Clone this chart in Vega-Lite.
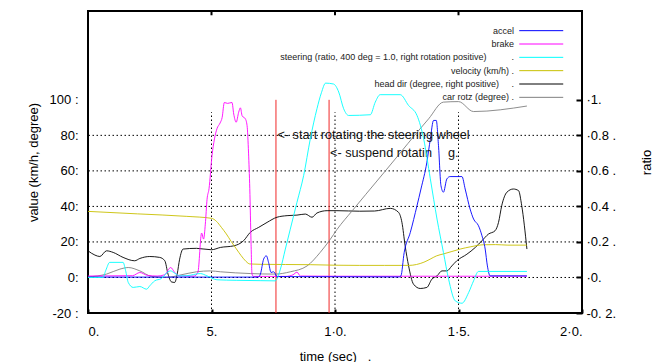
{
  "$schema": "https://vega.github.io/schema/vega-lite/v6.json",
  "width": 494,
  "height": 302,
  "autosize": {"type": "none"},
  "padding": {"left": 88, "top": 11, "right": 80, "bottom": 49},
  "background": "white",
  "config": {
    "view": {"stroke": "#000", "strokeWidth": 2},
    "font": "Liberation Sans",
    "axis": {"domain": false, "grid": false, "labelFont": "Liberation Sans", "labelFontSize": 13, "labelColor": "#000", "titleFont": "Liberation Sans", "titleFontSize": 13, "titleFontWeight": "normal", "titleColor": "#000"}
  },
  "datasets": {
    "lines": [
      {"series": "head dir", "t": 0, "v": 15}, {"series": "head dir", "t": 0.28, "v": 12.6}, {"series": "head dir", "t": 0.48, "v": 11.8}, {"series": "head dir", "t": 0.75, "v": 15}, {"series": "head dir", "t": 1.02, "v": 14.1}, {"series": "head dir", "t": 1.42, "v": 11.3}, {"series": "head dir", "t": 1.89, "v": 9.4}, {"series": "head dir", "t": 2.1, "v": 10.7}, {"series": "head dir", "t": 2.5, "v": 11.8}, {"series": "head dir", "t": 2.9, "v": 11.3}, {"series": "head dir", "t": 3.11, "v": 9.4}, {"series": "head dir", "t": 3.24, "v": 1.9}, {"series": "head dir", "t": 3.38, "v": -2.5}, {"series": "head dir", "t": 3.51, "v": -2.8}, {"series": "head dir", "t": 3.61, "v": 1.9}, {"series": "head dir", "t": 3.71, "v": 10.3}, {"series": "head dir", "t": 3.85, "v": 16}, {"series": "head dir", "t": 4.39, "v": 16.4}, {"series": "head dir", "t": 5.0, "v": 15.6}, {"series": "head dir", "t": 5.36, "v": 16.9}, {"series": "head dir", "t": 5.9, "v": 17.8}, {"series": "head dir", "t": 6.3, "v": 20.7}, {"series": "head dir", "t": 6.57, "v": 25.4}, {"series": "head dir", "t": 6.91, "v": 28.2}, {"series": "head dir", "t": 7.25, "v": 31}, {"series": "head dir", "t": 7.65, "v": 33.9}, {"series": "head dir", "t": 8.06, "v": 34.8}, {"series": "head dir", "t": 8.46, "v": 35.1}, {"series": "head dir", "t": 8.8, "v": 35.7}, {"series": "head dir", "t": 9.07, "v": 33.9}, {"series": "head dir", "t": 9.27, "v": 36.3}, {"series": "head dir", "t": 9.68, "v": 37.6}, {"series": "head dir", "t": 10.08, "v": 37.6}, {"series": "head dir", "t": 11.0, "v": 37.3}, {"series": "head dir", "t": 11.6, "v": 37.4}, {"series": "head dir", "t": 12.24, "v": 38.9}, {"series": "head dir", "t": 12.57, "v": 36.7}, {"series": "head dir", "t": 12.71, "v": 31}, {"series": "head dir", "t": 12.84, "v": 17.8}, {"series": "head dir", "t": 12.98, "v": 6.5}, {"series": "head dir", "t": 13.18, "v": -3.8}, {"series": "head dir", "t": 13.45, "v": -6.2}, {"series": "head dir", "t": 13.72, "v": -5.6}, {"series": "head dir", "t": 13.92, "v": -1}, {"series": "head dir", "t": 14.13, "v": 0.9}, {"series": "head dir", "t": 14.33, "v": 3.7}, {"series": "head dir", "t": 14.53, "v": 3.7}, {"series": "head dir", "t": 14.73, "v": 6.5}, {"series": "head dir", "t": 14.93, "v": 9.4}, {"series": "head dir", "t": 15.34, "v": 13.1}, {"series": "head dir", "t": 15.68, "v": 16.9}, {"series": "head dir", "t": 15.95, "v": 20.7}, {"series": "head dir", "t": 16.21, "v": 24.4}, {"series": "head dir", "t": 16.48, "v": 26.3}, {"series": "head dir", "t": 16.62, "v": 31}, {"series": "head dir", "t": 16.75, "v": 40.4}, {"series": "head dir", "t": 16.96, "v": 48}, {"series": "head dir", "t": 17.22, "v": 49.8}, {"series": "head dir", "t": 17.43, "v": 48.9}, {"series": "head dir", "t": 17.56, "v": 40.4}, {"series": "head dir", "t": 17.77, "v": 16},
      {"series": "car rotz", "t": 0, "v": 0.3}, {"series": "car rotz", "t": 0.75, "v": 1.9}, {"series": "car rotz", "t": 1.29, "v": 4.7}, {"series": "car rotz", "t": 1.63, "v": 5.6}, {"series": "car rotz", "t": 2.1, "v": 3.7}, {"series": "car rotz", "t": 2.57, "v": 0.6}, {"series": "car rotz", "t": 3.18, "v": 0}, {"series": "car rotz", "t": 3.71, "v": 1.3}, {"series": "car rotz", "t": 4.39, "v": 3.2}, {"series": "car rotz", "t": 4.96, "v": 3.7}, {"series": "car rotz", "t": 5.36, "v": 3.2}, {"series": "car rotz", "t": 6.57, "v": 2.2}, {"series": "car rotz", "t": 7.58, "v": 1.9}, {"series": "car rotz", "t": 8.19, "v": 3.2}, {"series": "car rotz", "t": 8.87, "v": 6.5}, {"series": "car rotz", "t": 9.4, "v": 14.1}, {"series": "car rotz", "t": 9.81, "v": 21.5}, {"series": "car rotz", "t": 10.08, "v": 27}, {"series": "car rotz", "t": 10.7, "v": 37.6}, {"series": "car rotz", "t": 11.8, "v": 56}, {"series": "car rotz", "t": 12.1, "v": 61}, {"series": "car rotz", "t": 13.79, "v": 89.3}, {"series": "car rotz", "t": 14.39, "v": 98.7}, {"series": "car rotz", "t": 15.0, "v": 99}, {"series": "car rotz", "t": 15.61, "v": 93.4}, {"series": "car rotz", "t": 17.77, "v": 96.5},
      {"series": "velocity", "t": 0, "v": 37.2}, {"series": "velocity", "t": 2, "v": 35.8}, {"series": "velocity", "t": 4, "v": 34.4}, {"series": "velocity", "t": 5.0, "v": 33.3}, {"series": "velocity", "t": 5.2, "v": 31.6}, {"series": "velocity", "t": 5.4, "v": 28.2}, {"series": "velocity", "t": 5.6, "v": 24.5}, {"series": "velocity", "t": 5.8, "v": 20.2}, {"series": "velocity", "t": 6.0, "v": 16.2}, {"series": "velocity", "t": 6.2, "v": 12.3}, {"series": "velocity", "t": 6.4, "v": 9.0}, {"series": "velocity", "t": 6.55, "v": 7.6}, {"series": "velocity", "t": 7, "v": 7.4}, {"series": "velocity", "t": 8, "v": 7.3}, {"series": "velocity", "t": 9, "v": 7.2}, {"series": "velocity", "t": 10, "v": 6.9}, {"series": "velocity", "t": 11, "v": 6.8}, {"series": "velocity", "t": 12, "v": 6.8}, {"series": "velocity", "t": 13, "v": 6.8}, {"series": "velocity", "t": 13.3, "v": 7.3}, {"series": "velocity", "t": 13.6, "v": 8.6}, {"series": "velocity", "t": 13.85, "v": 10.3}, {"series": "velocity", "t": 14.1, "v": 12.1}, {"series": "velocity", "t": 14.4, "v": 13.3}, {"series": "velocity", "t": 14.7, "v": 14.5}, {"series": "velocity", "t": 15.07, "v": 16}, {"series": "velocity", "t": 15.5, "v": 17.3}, {"series": "velocity", "t": 16, "v": 18.4}, {"series": "velocity", "t": 16.5, "v": 18.5}, {"series": "velocity", "t": 17, "v": 18.2}, {"series": "velocity", "t": 17.77, "v": 18.2},
      {"series": "brake", "t": 0, "v": 0.8}, {"series": "brake", "t": 1.8, "v": 1.0}, {"series": "brake", "t": 2.1, "v": 2.8}, {"series": "brake", "t": 2.4, "v": 1.2}, {"series": "brake", "t": 2.8, "v": 0.8}, {"series": "brake", "t": 3.1, "v": 1.5}, {"series": "brake", "t": 3.35, "v": 5.6}, {"series": "brake", "t": 3.5, "v": 3.0}, {"series": "brake", "t": 3.7, "v": 0.8}, {"series": "brake", "t": 4.3, "v": 0.8}, {"series": "brake", "t": 4.45, "v": 3}, {"series": "brake", "t": 4.6, "v": 25}, {"series": "brake", "t": 4.68, "v": 21.6}, {"series": "brake", "t": 4.75, "v": 30}, {"series": "brake", "t": 4.82, "v": 44}, {"series": "brake", "t": 4.9, "v": 50}, {"series": "brake", "t": 5.02, "v": 68.6}, {"series": "brake", "t": 5.12, "v": 78}, {"series": "brake", "t": 5.22, "v": 83.7}, {"series": "brake", "t": 5.35, "v": 87}, {"series": "brake", "t": 5.43, "v": 90}, {"series": "brake", "t": 5.52, "v": 98.5}, {"series": "brake", "t": 5.65, "v": 98}, {"series": "brake", "t": 5.83, "v": 98.5}, {"series": "brake", "t": 5.9, "v": 92}, {"series": "brake", "t": 6.0, "v": 87.4}, {"series": "brake", "t": 6.1, "v": 93}, {"series": "brake", "t": 6.17, "v": 95.5}, {"series": "brake", "t": 6.24, "v": 91}, {"series": "brake", "t": 6.37, "v": 89.3}, {"series": "brake", "t": 6.44, "v": 85.5}, {"series": "brake", "t": 6.5, "v": 70}, {"series": "brake", "t": 6.55, "v": 50}, {"series": "brake", "t": 6.6, "v": 20}, {"series": "brake", "t": 6.64, "v": 1.9}, {"series": "brake", "t": 6.7, "v": 0.6}, {"series": "brake", "t": 8.0, "v": 0.6}, {"series": "brake", "t": 8.3, "v": 1.5}, {"series": "brake", "t": 8.46, "v": 3.0}, {"series": "brake", "t": 8.6, "v": 0.8}, {"series": "brake", "t": 10, "v": 0.7}, {"series": "brake", "t": 17.77, "v": 0.7},
      {"series": "accel", "t": 0, "v": 0.2}, {"series": "accel", "t": 6.9, "v": 0.2}, {"series": "accel", "t": 6.98, "v": 1.9}, {"series": "accel", "t": 7.11, "v": 10.3}, {"series": "accel", "t": 7.22, "v": 12.2}, {"series": "accel", "t": 7.31, "v": 8.5}, {"series": "accel", "t": 7.41, "v": 2.8}, {"series": "accel", "t": 7.5, "v": 3.2}, {"series": "accel", "t": 7.55, "v": 2.8}, {"series": "accel", "t": 7.65, "v": 0.5}, {"series": "accel", "t": 12.6, "v": 0.3}, {"series": "accel", "t": 12.67, "v": 0.9}, {"series": "accel", "t": 12.8, "v": 14}, {"series": "accel", "t": 13.05, "v": 25.4}, {"series": "accel", "t": 13.32, "v": 40.4}, {"series": "accel", "t": 13.48, "v": 49.8}, {"series": "accel", "t": 13.72, "v": 64.9}, {"series": "accel", "t": 13.86, "v": 78}, {"series": "accel", "t": 13.99, "v": 88.4}, {"series": "accel", "t": 14.1, "v": 88.4}, {"series": "accel", "t": 14.19, "v": 74.2}, {"series": "accel", "t": 14.29, "v": 51.7}, {"series": "accel", "t": 14.39, "v": 48}, {"series": "accel", "t": 14.53, "v": 55.5}, {"series": "accel", "t": 14.66, "v": 56.8}, {"series": "accel", "t": 15.14, "v": 56.8}, {"series": "accel", "t": 15.27, "v": 49.8}, {"series": "accel", "t": 15.47, "v": 38.5}, {"series": "accel", "t": 15.61, "v": 32.9}, {"series": "accel", "t": 15.81, "v": 29.1}, {"series": "accel", "t": 15.95, "v": 23.5}, {"series": "accel", "t": 16.08, "v": 16}, {"series": "accel", "t": 16.17, "v": 6.5}, {"series": "accel", "t": 16.28, "v": 0.9}, {"series": "accel", "t": 17.77, "v": 0.9}
    ],
    "steer": [
      {"series": "steering", "t": 0, "ratio": 0}, {"series": "steering", "t": 0.6, "ratio": 0}, {"series": "steering", "t": 0.72, "ratio": 0.04}, {"series": "steering", "t": 0.88, "ratio": 0.085}, {"series": "steering", "t": 1.42, "ratio": 0.085}, {"series": "steering", "t": 1.52, "ratio": 0.04}, {"series": "steering", "t": 1.63, "ratio": -0.028}, {"series": "steering", "t": 1.83, "ratio": -0.056}, {"series": "steering", "t": 2.1, "ratio": -0.051}, {"series": "steering", "t": 2.37, "ratio": -0.066}, {"series": "steering", "t": 2.5, "ratio": -0.047}, {"series": "steering", "t": 2.7, "ratio": -0.019}, {"series": "steering", "t": 2.97, "ratio": -0.006}, {"series": "steering", "t": 3.24, "ratio": 0.032}, {"series": "steering", "t": 3.34, "ratio": 0.037}, {"series": "steering", "t": 3.51, "ratio": 0.024}, {"series": "steering", "t": 3.71, "ratio": 0.009}, {"series": "steering", "t": 4.0, "ratio": 0.01}, {"series": "steering", "t": 4.55, "ratio": 0.022}, {"series": "steering", "t": 4.82, "ratio": 0.009}, {"series": "steering", "t": 5.22, "ratio": -0.013}, {"series": "steering", "t": 6.0, "ratio": -0.016}, {"series": "steering", "t": 7.0, "ratio": -0.018}, {"series": "steering", "t": 7.58, "ratio": -0.019}, {"series": "steering", "t": 7.79, "ratio": 0.047}, {"series": "steering", "t": 7.99, "ratio": 0.16}, {"series": "steering", "t": 8.19, "ratio": 0.272}, {"series": "steering", "t": 8.46, "ratio": 0.423}, {"series": "steering", "t": 8.73, "ratio": 0.573}, {"series": "steering", "t": 9.0, "ratio": 0.78}, {"series": "steering", "t": 9.27, "ratio": 0.95}, {"series": "steering", "t": 9.45, "ratio": 1.04}, {"series": "steering", "t": 9.62, "ratio": 1.094}, {"series": "steering", "t": 9.94, "ratio": 1.089}, {"series": "steering", "t": 10.15, "ratio": 1.044}, {"series": "steering", "t": 10.35, "ratio": 0.95}, {"series": "steering", "t": 10.55, "ratio": 0.912}, {"series": "steering", "t": 11.43, "ratio": 0.916}, {"series": "steering", "t": 11.63, "ratio": 0.987}, {"series": "steering", "t": 11.83, "ratio": 1.029}, {"series": "steering", "t": 12.64, "ratio": 1.029}, {"series": "steering", "t": 12.98, "ratio": 0.968}, {"series": "steering", "t": 13.32, "ratio": 0.912}, {"series": "steering", "t": 13.59, "ratio": 0.78}, {"series": "steering", "t": 13.86, "ratio": 0.555}, {"series": "steering", "t": 14.13, "ratio": 0.329}, {"series": "steering", "t": 14.39, "ratio": 0.141}, {"series": "steering", "t": 14.6, "ratio": -0.01}, {"series": "steering", "t": 14.87, "ratio": -0.132}, {"series": "steering", "t": 15.14, "ratio": -0.145}, {"series": "steering", "t": 15.41, "ratio": -0.085}, {"series": "steering", "t": 15.61, "ratio": -0.019}, {"series": "steering", "t": 15.81, "ratio": 0.034}, {"series": "steering", "t": 17.77, "ratio": 0.034}
    ],
    "legendRows": [
      {"series": "accel", "label": "accel"},
      {"series": "brake", "label": "brake"},
      {"series": "steering", "label": "steering (ratio, 400 deg = 1.0, right rotation positive)\u00a0\u00a0\u00a0\u00a0\u00a0\u00a0\u00a0\u00a0\u00a0\u00a0."},
      {"series": "velocity", "label": "velocity (km/h) ."},
      {"series": "head dir", "label": "head dir (degree, right positive)\u00a0\u00a0\u00a0\u00a0\u00a0."},
      {"series": "car rotz", "label": "car rotz (degree) ."}
    ],
    "hgrid": [{"g": 0}, {"g": 20}, {"g": 40}, {"g": 60}, {"g": 80}],
    "vgrid": [{"t": 5}, {"t": 10}, {"t": 15}],
    "events": [{"t": 7.61}, {"t": 9.76}],
    "notes": [
      {"t": 7.67, "v": 80, "label": "<- start rotating the steering wheel"},
      {"t": 9.8, "v": 70, "label": "<- suspend rotatin"},
      {"t": 14.57, "v": 70, "label": "g."}
    ]
  },
  "layer": [
    {
      "layer": [
        {
          "data": {"name": "hgrid"},
          "mark": {"type": "rule", "color": "#000", "strokeWidth": 1, "strokeDash": [1.5, 2.5]},
          "encoding": {
            "y": {"field": "g", "type": "quantitative", "scale": {"domain": [-20, 150], "nice": false, "zero": false},
              "axis": {"values": [-20, 0, 20, 40, 60, 80, 100], "ticks": false, "labelPadding": 10, "title": "value (km/h, degree)", "titlePadding": 9,
                "labelExpr": "datum.value == 100 ? '100 :' : datum.value == -20 ? '-20 :' : datum.value + ':'"}}
          }
        },
        {
          "data": {"name": "vgrid"},
          "mark": {"type": "rule", "color": "#000", "strokeWidth": 1, "strokeDash": [1.5, 2.5]},
          "encoding": {
            "x": {"field": "t", "type": "quantitative", "scale": {"domain": [0, 20], "nice": false},
              "axis": {"values": [0, 5, 10, 15, 20], "ticks": true, "tickSize": -4, "tickWidth": 2, "tickColor": "#000", "labelPadding": 16, "title": "time (sec)\u00a0\u00a0\u00a0.", "titlePadding": 12,
                "labelExpr": "datum.value == 0 ? '0.' : datum.value == 5 ? '5.' : datum.value == 10 ? '1·0.' : datum.value == 15 ? '1·5.' : '2·0.'"}},
            "y": {"datum": -20, "type": "quantitative", "scale": {"domain": [-20, 150], "nice": false, "zero": false}},
            "y2": {"datum": 93}
          }
        },
        {
          "data": {"name": "vgrid"},
          "mark": {"type": "rule", "color": "#000", "strokeWidth": 2},
          "encoding": {
            "x": {"field": "t", "type": "quantitative", "scale": {"domain": [0, 20], "nice": false}},
            "y": {"datum": 150, "type": "quantitative", "scale": {"domain": [-20, 150], "nice": false, "zero": false}},
            "y2": {"datum": 147.6}
          }
        },
        {
          "data": {"name": "events"},
          "mark": {"type": "rule", "color": "#f02828", "strokeWidth": 1},
          "encoding": {
            "x": {"field": "t", "type": "quantitative", "scale": {"domain": [0, 20], "nice": false}},
            "y": {"datum": -20, "type": "quantitative", "scale": {"domain": [-20, 150], "nice": false, "zero": false}},
            "y2": {"datum": 100}
          }
        },
        {
          "data": {"name": "lines"},
          "mark": {"type": "line", "strokeWidth": 0.9, "interpolate": "monotone"},
          "encoding": {
            "x": {"field": "t", "type": "quantitative", "scale": {"domain": [0, 20], "nice": false}},
            "y": {"field": "v", "type": "quantitative", "scale": {"domain": [-20, 150], "nice": false, "zero": false}},
            "color": {"field": "series", "type": "nominal", "legend": null,
              "scale": {"domain": ["accel", "brake", "steering", "velocity", "head dir", "car rotz"], "range": ["#0000ff", "#ff00ff", "#00ffff", "#c8c000", "#000000", "#808080"]}},
            "detail": {"field": "series"}
          }
        },
        {
          "data": {"name": "notes"},
          "mark": {"type": "text", "align": "left", "baseline": "middle", "fontSize": 12.7, "font": "Liberation Sans", "color": "#111"},
          "encoding": {
            "x": {"field": "t", "type": "quantitative", "scale": {"domain": [0, 20], "nice": false}},
            "y": {"field": "v", "type": "quantitative", "scale": {"domain": [-20, 150], "nice": false, "zero": false}},
            "text": {"field": "label"}
          }
        }
      ]
    },
    {
      "data": {"name": "steer"},
      "mark": {"type": "line", "strokeWidth": 0.9, "interpolate": "monotone"},
      "encoding": {
        "x": {"field": "t", "type": "quantitative", "scale": {"domain": [0, 20], "nice": false}},
        "y": {"field": "ratio", "type": "quantitative", "scale": {"domain": [-0.2, 1.5], "nice": false, "zero": false},
          "axis": {"orient": "right", "values": [-0.2, 0, 0.2, 0.4, 0.6, 0.8, 1], "ticks": true, "tickSize": -6, "tickWidth": 2, "tickColor": "#000", "labelPadding": 10, "title": "ratio", "titleAngle": -90, "titlePadding": 38,
            "labelExpr": "datum.value == 1 ? '·1.' : abs(datum.value) < 0.001 ? '·0.' : datum.value < 0 ? '-0. 2.' : '·' + format(datum.value, '.1f') + ' .'"}},
        "color": {"field": "series", "type": "nominal", "legend": null,
          "scale": {"domain": ["accel", "brake", "steering", "velocity", "head dir", "car rotz"], "range": ["#0000ff", "#ff00ff", "#00ffff", "#c8c000", "#000000", "#808080"]}}
      }
    },
    {
      "data": {"name": "legendRows"},
      "layer": [
        {
          "mark": {"type": "text", "align": "right", "baseline": "middle", "fontSize": 9, "font": "Liberation Sans", "color": "#222"},
          "encoding": {
            "x": {"datum": 17.25, "type": "quantitative", "scale": {"domain": [0, 20], "nice": false}},
            "y": {"field": "series", "type": "nominal", "axis": null, "scale": {"type": "point", "domain": ["accel", "brake", "steering", "velocity", "head dir", "car rotz"], "range": [13, 93]}},
            "text": {"field": "label"}
          }
        },
        {
          "mark": {"type": "rule", "strokeWidth": 1},
          "encoding": {
            "x": {"datum": 17.46, "type": "quantitative", "scale": {"domain": [0, 20], "nice": false}},
            "x2": {"datum": 19.24},
            "y": {"field": "series", "type": "nominal", "axis": null, "scale": {"type": "point", "domain": ["accel", "brake", "steering", "velocity", "head dir", "car rotz"], "range": [13, 93]}},
            "color": {"field": "series", "type": "nominal", "legend": null,
              "scale": {"domain": ["accel", "brake", "steering", "velocity", "head dir", "car rotz"], "range": ["#0000ff", "#ff00ff", "#00ffff", "#c8c000", "#000000", "#808080"]}}
          }
        }
      ]
    }
  ],
  "resolve": {"scale": {"y": "independent"}}
}
